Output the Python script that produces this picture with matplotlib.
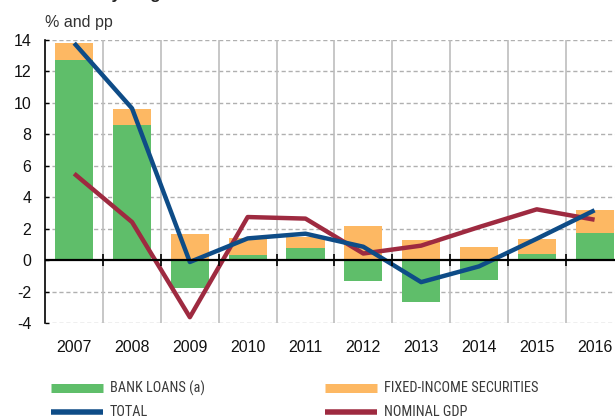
import matplotlib
matplotlib.use("Agg")
import matplotlib.pyplot as plt
from matplotlib.lines import Line2D
from matplotlib import font_manager
from matplotlib.font_manager import FontProperties
import numpy as np

years = ["2007", "2008", "2009", "2010", "2011", "2012", "2013", "2014", "2015", "2016"]
bank_loans = [12.7, 8.6, -1.8, 0.3, 0.8, -1.3, -2.65, -1.25, 0.38, 1.7]
fixed_income = [1.1, 1.04, 1.68, 1.1, 0.65, 2.15, 1.27, 0.85, 0.94, 1.51]
total = [13.8, 9.65, -0.12, 1.38, 1.68, 0.85, -1.4, -0.4, 1.36, 3.17]
nominal_gdp = [5.5, 2.42, -3.63, 2.74, 2.64, 0.42, 0.92, 2.1, 3.23, 2.57]
yticks = [-4, -2, 0, 2, 4, 6, 8, 10, 12, 14]
legend_labels = ["BANK LOANS (a)", "FIXED-INCOME SECURITIES", "TOTAL", "NOMINAL GDP"]

GREEN = "#5fbe6a"
ORANGE = "#fdb863"
BLUE = "#0e4c87"
RED = "#9e2a40"

plt.rcParams["font.family"] = ["Liberation Sans", "DejaVu Sans"]

# look for a condensed / narrow sans face for the legend
legend_fp = None
cands = []
for f in font_manager.fontManager.ttflist:
    nm = (f.name + " " + f.fname).lower()
    if f.style != "normal" or f.weight not in (400, "normal", "regular"):
        continue
    if "narrow" in nm or "condensed" in nm or str(f.stretch) in ("condensed", "semi-condensed"):
        if "bold" in f.fname.lower() or "italic" in f.fname.lower() or "oblique" in f.fname.lower():
            continue
        score = 0
        if "liberation" in nm:
            score = 3
        elif "roboto" in nm or "arial" in nm:
            score = 2
        elif "dejavu" in nm:
            score = 1
        cands.append((score, f.fname))
if cands:
    cands.sort(reverse=True)
    legend_fp = FontProperties(fname=cands[0][1], size=10.3)
else:
    legend_fp = FontProperties(family="Liberation Sans", size=9)

W, H = 615, 419
fig = plt.figure(figsize=(W / 100, H / 100), dpi=100)
left, right, top, bottom = 45.3, 623.5, 40, 323
ax = fig.add_axes([left / W, 1 - bottom / H, (right - left) / W, (bottom - top) / H])

x = np.arange(len(years))
bl = np.array(bank_loans)
fi = np.array(fixed_income)
fi_base = np.where(bl > 0, bl, 0)

ax.bar(x, bl, width=0.66, color=GREEN, zorder=2)
ax.bar(x, fi, width=0.66, bottom=fi_base, color=ORANGE, zorder=2)
ax.plot(x, total, color=BLUE, lw=3.2, zorder=4, solid_capstyle="butt")
ax.plot(x, nominal_gdp, color=RED, lw=3.2, zorder=3, solid_capstyle="butt")

ax.set_xlim(-0.5, len(years) - 0.5)
ax.set_ylim(-4, 14)
ax.set_yticks(yticks)
ax.set_yticklabels([str(v) for v in yticks], fontsize=11.5, color="#111111")
ax.set_xticks(x)
ax.set_xticklabels(years, fontsize=11.5, color="#111111")
ax.tick_params(axis="x", length=0, pad=12)
ax.tick_params(axis="y", direction="in", length=3, width=1, color="black", pad=10)

for s in ["top", "right", "bottom"]:
    ax.spines[s].set_visible(False)
ax.spines["left"].set_linewidth(1.2)
ax.spines["left"].set_color("black")

# gridlines
for v in yticks:
    if v != 0:
        ax.axhline(v, color="#b0b0b0", lw=1, ls=(0, (3, 2)), zorder=1)
for b in np.arange(0.5, len(years) - 0.5, 1.0):
    ax.axvline(b, color="#bdbdbd", lw=1.2, zorder=1)
ax.axhline(0, color="black", lw=1.6, zorder=5)
ax.plot(np.arange(0.5, len(years) - 0.5, 1.0), np.zeros(len(years) - 1), ls="none",
        marker="|", ms=8, mew=1.2, color="black", zorder=5)

fig.text(45 / W, 1 - 22 / H, "% and pp", fontsize=11.5, color="#333333", va="center", ha="left")
fig.text(45 / W, 1 + 1.0 / H, "Year-on-year growth", fontsize=12, fontweight="bold",
         color="#222222", va="baseline", ha="left")

# legend
handles = [(51, 103, 388, GREEN, 9), (325, 377, 388, ORANGE, 9),
           (51, 103, 412, BLUE, 5.5), (325, 377, 412, RED, 5.5)]
for (x0, x1, yy, c, h), lab in zip(handles, legend_labels):
    fig.add_artist(Line2D([x0 / W, x1 / W], [1 - yy / H, 1 - yy / H], transform=fig.transFigure,
                          color=c, lw=h * 0.72, solid_capstyle="butt"))
    fig.text((x1 + 7) / W, 1 - yy / H, lab, fontproperties=legend_fp, color="#3a3a3a",
             va="center", ha="left")

fig.savefig("out.png", dpi=100)
